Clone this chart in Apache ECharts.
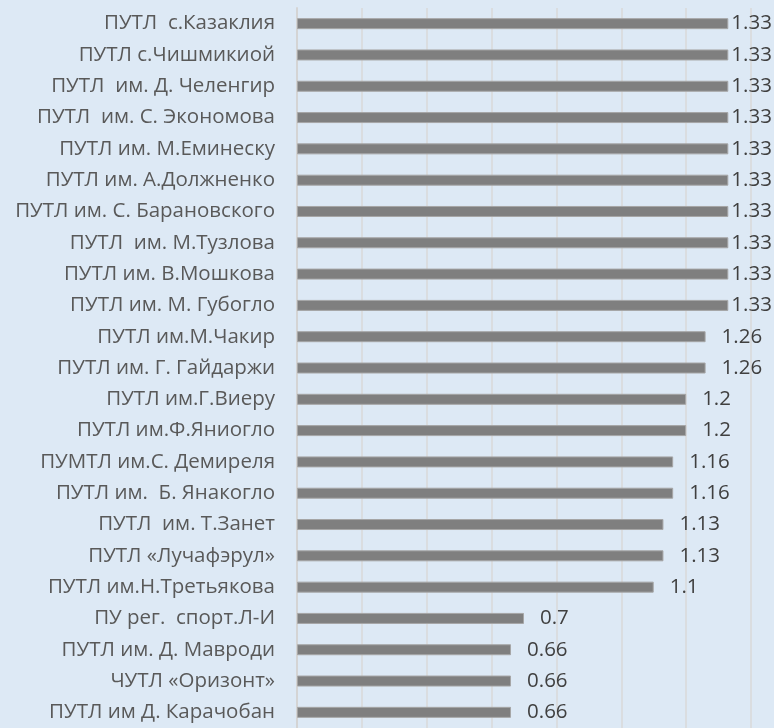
<!DOCTYPE html>
<html>
<head>
<meta charset="utf-8">
<script src="https://cdn.jsdelivr.net/npm/echarts@6/dist/echarts.min.js"></script>
<style>
  html, body { margin: 0; padding: 0; background: #dde9f5; }
  #chart { width: 774px; height: 728px; }
</style>
</head>
<body>
<div id="chart"></div>
<script>
// schools, top to bottom
const schools = [
  'ПУТЛ  с.Казаклия',
  'ПУТЛ с.Чишмикиой',
  'ПУТЛ  им. Д. Челенгир',
  'ПУТЛ  им. С. Экономова',
  'ПУТЛ им. М.Еминеску',
  'ПУТЛ им. А.Должненко',
  'ПУТЛ им. С. Барановского',
  'ПУТЛ  им. М.Тузлова',
  'ПУТЛ им. В.Мошкова',
  'ПУТЛ им. М. Губогло',
  'ПУТЛ им.М.Чакир',
  'ПУТЛ им. Г. Гайдаржи',
  'ПУТЛ им.Г.Виеру',
  'ПУТЛ им.Ф.Яниогло',
  'ПУМТЛ им.С. Демиреля',
  'ПУТЛ им.  Б. Янакогло',
  'ПУТЛ  им. Т.Занет',
  'ПУТЛ «Лучафэрул»',
  'ПУТЛ им.Н.Третьякова',
  'ПУ рег.  спорт.Л-И',
  'ПУТЛ им. Д. Мавроди',
  'ЧУТЛ «Оризонт»',
  'ПУТЛ им Д. Карачобан'
];

const scores = [
  1.33, 1.33, 1.33, 1.33, 1.33, 1.33, 1.33, 1.33, 1.33, 1.33,
  1.26, 1.26, 1.2, 1.2, 1.16, 1.16, 1.13, 1.13, 1.1, 0.7,
  0.66, 0.66, 0.66
];

const chart = echarts.init(document.getElementById('chart'));

// longest bars get their label pulled in so it stays on the page
const maxScore = Math.max(...scores);
const barData = scores.map(v => ({
  value: v,
  label: { distance: v === maxScore ? 3 : 16 }
}));

chart.setOption({
  backgroundColor: '#dde9f5',
  textStyle: { fontFamily: 'Open Sans' },
  grid: { left: 297, right: 23, top: 8, height: 728 },
  xAxis: {
    type: 'value',
    min: 0,
    max: 1.4,
    interval: 0.2,
    axisLabel: { show: false },
    axisLine: { show: false },
    axisTick: { show: false },
    splitLine: { lineStyle: { color: '#d9d9d9', width: 1.5 } }
  },
  yAxis: {
    type: 'category',
    data: schools,
    inverse: true,
    axisTick: { show: false },
    axisLine: { lineStyle: { color: '#d4d4d4', width: 2 } },
    axisLabel: {
      color: '#595959',
      fontSize: 20.5,
      margin: 22,
      fontFamily: 'Open Sans'
    }
  },
  series: [{
    type: 'bar',
    data: barData,
    barWidth: 11,
    itemStyle: { color: '#7f7f7f', borderColor: '#a6a6a6', borderWidth: 1 },
    label: {
      show: true,
      position: 'right',
      color: '#404040',
      fontSize: 20.5,
      fontFamily: 'Open Sans'
    },
    animation: false
  }]
});
</script>
</body>
</html>
